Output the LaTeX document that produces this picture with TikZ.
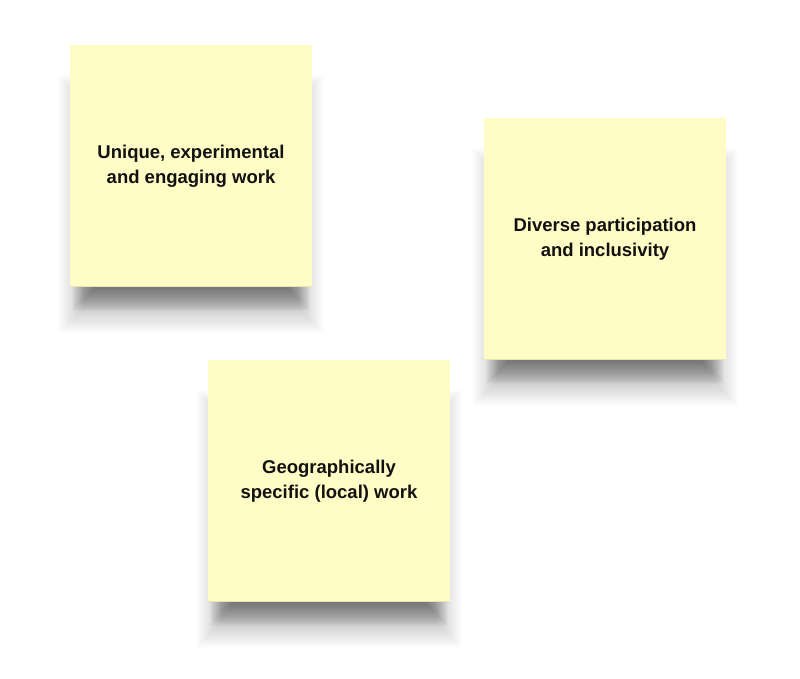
\documentclass[tikz,border=0pt]{standalone}
\usepackage{fontspec}
\setmainfont{Liberation Sans}
\definecolor{sticky}{HTML}{FFFCC6}
\definecolor{stickyedge}{HTML}{E8E5B0}
\definecolor{txt}{HTML}{111111}
% #1 node, #2 side inset, #3 top inset, #4 bottom offset, #5 steps, #6 opacity
\newcommand{\shadowlayer}[6]{%
  \foreach \k in {0,...,#5}{%
    \fill[black, opacity=#6]
      ([xshift={#2-\k*1pt}, yshift={-(#3-\k*1pt)}]#1.north west)
      rectangle ([xshift={-(#2-\k*1pt)}, yshift={-(#4+\k*1pt)}]#1.south east);
  }%
}
\newcommand{\notesh}[1]{%
  \shadowlayer{#1}{14pt}{56pt}{20pt}{26}{0.006}%
  \shadowlayer{#1}{24pt}{220pt}{2pt}{22}{0.02}%
}
\begin{document}
\begin{tikzpicture}[x=1pt,y=-1pt,
  note/.style={fill=sticky, draw=none, minimum width=242pt, minimum height=242pt,
    inner sep=0pt, align=center, text=txt, font=\fontsize{18.5}{25}\selectfont\bfseries},
  frame/.style={draw=none, fill=none, minimum width=242pt, minimum height=242pt, inner sep=0pt}]
\useasboundingbox (0,0) rectangle (800,678);
\fill[white] (0,0) rectangle (800,678);
\node[frame] (s1) at (191,166) {};
\node[frame] (s2) at (605,239) {};
\node[frame] (s3) at (329,481) {};
\notesh{s1}
\notesh{s2}
\notesh{s3}
\node[note] (n1) at (191,166) {Unique, experimental\\and engaging work};
\node[note] (n2) at (605,239) {Diverse participation\\and inclusivity};
\node[note] (n3) at (329,481) {Geographically\\specific (local) work};
\foreach \n in {n1,n2,n3}{
  \draw[stickyedge, line width=1pt] ([yshift=0.5pt]\n.south west) -- ([yshift=0.5pt]\n.south east);
}
\end{tikzpicture}
\end{document}
